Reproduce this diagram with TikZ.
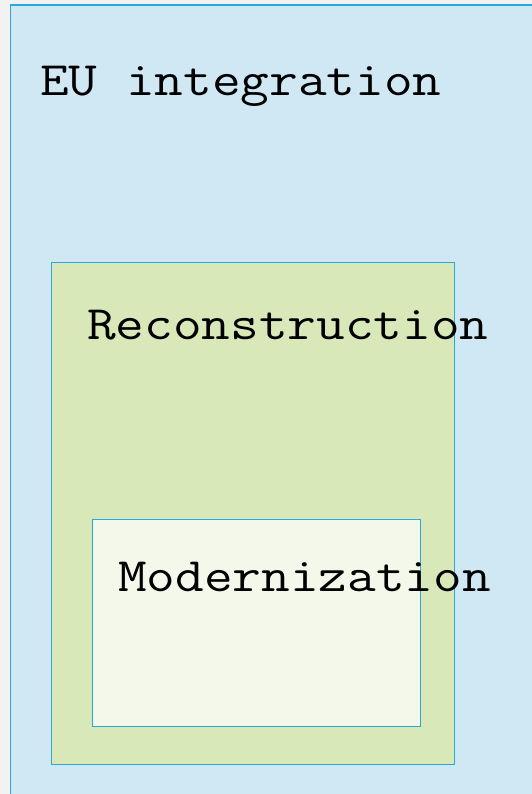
\documentclass[tikz,border=0pt]{standalone}
\usepackage{fontspec}
\newfontfamily\areafont[FakeStretch=1.16]{Latin Modern Mono}
\usetikzlibrary{positioning}
\definecolor{pagegray}{HTML}{F2F2F2}
\definecolor{eublue}{HTML}{D0E7F4}
\definecolor{recgreen}{HTML}{D9E8B8}
\definecolor{modwhite}{HTML}{F4F8EA}
\definecolor{edgeblue}{HTML}{29A8E0}

\begin{document}
\begin{tikzpicture}[x=1pt,y=-1pt,
	area/.style={draw=edgeblue, line width=1.2pt, anchor=north west, inner sep=0pt},
	areatext/.style={font=\areafont\fontsize{48}{48}\selectfont, anchor=base west, inner sep=0pt}]
	% page and clipping
	\useasboundingbox (0,0) rectangle (532,794);
	\clip (0,0) rectangle (532,794);
	\fill[pagegray] (0,0) rectangle (532,794);
	
	% nested areas
	\node[area, fill=eublue, minimum width=540pt, minimum height=800pt] (eu) at (9.5,4.5) {};
	\node[area, fill=recgreen, minimum width=403pt, minimum height=502pt] (rec) at (50.5,262) {};
	\node[area, fill=modwhite, minimum width=327.5pt, minimum height=207pt] (mod) at (92,518.5) {};
	
	% labels
	\node[areatext] (eutext) at (40,96) {EU integration};
	\node[areatext] (rectext) at (87,339) {Reconstruction};
	\node[areatext] (modtext) at (118,591) {Modernization};
\end{tikzpicture}
\end{document}
